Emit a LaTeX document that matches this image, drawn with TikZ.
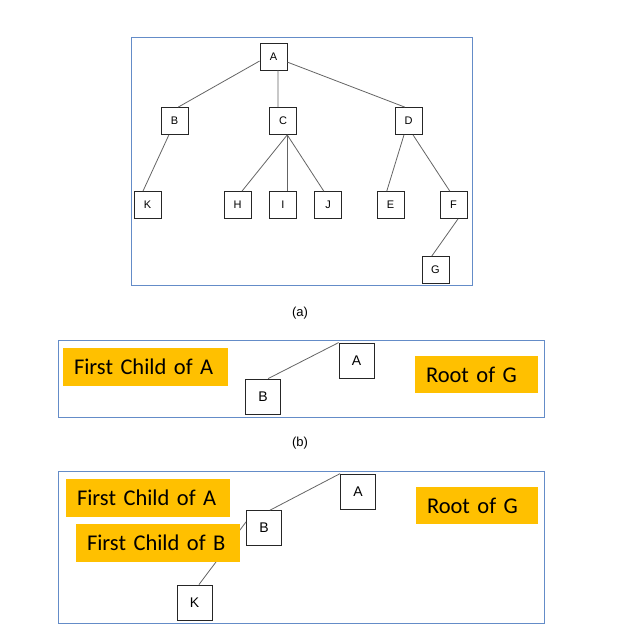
\documentclass[tikz,border=0pt]{standalone}
\usepackage{fontspec}
\setmainfont{Liberation Sans}
\newfontfamily\calfont[WordSpace=0.75]{Carlito}
\definecolor{framecol}{RGB}{100,140,200}
\definecolor{orangec}{RGB}{255,192,0}
\definecolor{edgecol}{RGB}{100,100,100}
\begin{document}
\begin{tikzpicture}[x=1pt,y=-1pt,
  tbox/.style={draw=black!85, fill=white, line width=0.8pt, minimum width=27pt, minimum height=27pt, inner sep=0pt, font=\fontsize{11}{13}\selectfont},
  bbox/.style={tbox, minimum width=35pt, minimum height=35pt, font=\fontsize{14}{16}\selectfont},
  edge/.style={draw=edgecol, line width=0.8pt},
  frame/.style={draw=framecol, line width=0.9pt},
  lbl/.style={fill=orangec, inner xsep=11pt, inner ysep=0pt, minimum height=38pt, align=left, font=\calfont\fontsize{22.5}{26}\selectfont},
  captext/.style={font=\fontsize{13}{15}\selectfont}]
\useasboundingbox (0,0) rectangle (619,635);

% ---------- (a)
\draw[frame] (131,37) rectangle (472,285);
\node[tbox] (A) at (273.5,56.5) {A};
\node[tbox] (B) at (174.5,121) {B};
\node[tbox] (C) at (283,121) {C};
\node[tbox] (D) at (408.5,121) {D};
\node[tbox] (K) at (147.5,205) {K};
\node[tbox] (H) at (237.5,205) {H};
\node[tbox] (I) at (283,205) {I};
\node[tbox] (J) at (328,205) {J};
\node[tbox] (E) at (390.5,205) {E};
\node[tbox] (F) at (453.5,205) {F};
\node[tbox] (G) at (435.5,270) {G};
\draw[edge] (A.198) -- (B.75);
\draw[edge] (A.-72) -- (C.110);
\draw[edge] (A.-22) -- (D.105);
\draw[edge] (B.-112) -- (K.108);
\draw[edge] (C.-73) -- (H.72);
\draw[edge] (C.-73) -- (I.73);
\draw[edge] (C.-73) -- (J.107);
\draw[edge] (D.-108) -- (E.105);
\draw[edge] (D.-72) -- (F.105);
\draw[edge] (F.-72) -- (G.105);
\node[captext] (capa) at (300,313) {(a)};

% ---------- (b)
\draw[frame] (58,340) rectangle (544,417);
\node[lbl, text width=143pt] (bfca) at (145.5,367) {First Child of A};
\node[lbl, text width=101pt, minimum height=37pt] (broot) at (476.5,374.5) {Root of G};
\node[bbox] (bA) at (356.5,360.5) {A};
\node[bbox] (bB) at (263,396.5) {B};
\draw[edge] (bA.north west) -- (bB.74);
\node[captext] (capb) at (300,443) {(b)};

% ---------- (c)
\draw[frame] (58,471) rectangle (544,623);
\node[lbl, text width=142pt] (cfca) at (148,498) {First Child of A};
\node[lbl, text width=100pt, minimum height=37pt] (croot) at (477,505.5) {Root of G};
\node[bbox] (cA) at (358,491.5) {A};
\node[bbox] (cB) at (264,528) {B};
\node[bbox] (cK) at (194.5,602.5) {K};
\draw[edge] (cA.north west) -- (cB.71);
\draw[edge] (cB.161) -- (cK.76);
\node[lbl, text width=142pt] (cfcb) at (158,543) {First Child of B};
\end{tikzpicture}
\end{document}
